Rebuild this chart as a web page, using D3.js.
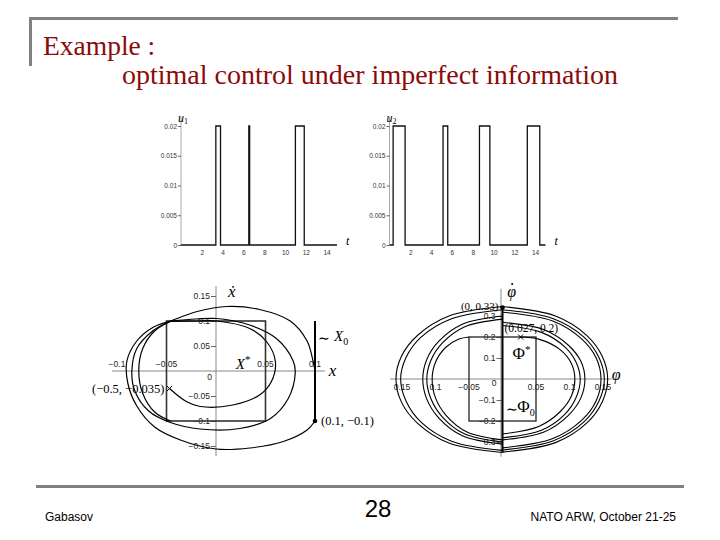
<!DOCTYPE html>
<html>
<head>
<meta charset="utf-8">
<script src="https://cdn.jsdelivr.net/npm/d3@7"></script>
<style>
  body { margin: 0; background: #fff; }
  svg { display: block; }
  .tick text { font-family: 'Liberation Sans', Arial, sans-serif; }
</style>
</head>
<body>
<svg id="slide" width="720" height="540"></svg>
<script>
// ---- data ----
const titleLines = ['Example :', 'optimal control under imperfect information'];
const footerLeft = 'Gabasov';
const footerPage = '28';
const footerRight = 'NATO ARW, October 21-25';

// control pulses [switch on, switch off] in t, level 0.02
const uLevel = 0.02;
const u1Pulses = [[3.35, 3.8], [6.52, 6.6], [11.0, 11.85]];
const u2Pulses = [[0.35, 1.5], [5.15, 5.6], [8.65, 9.65], [13.25, 14.45]];
const uTicksY = [0, 0.005, 0.01, 0.015, 0.02];
const uTickLabelsY = ['0', '0.005', '0.01', '0.015', '0.02'];
const uTicksX = [2, 4, 6, 8, 10, 12, 14];

// phase plane (x, xdot)
const xTicks = [-0.1, -0.05, 0.05, 0.1];
const xTickLabels = ['\u22120.1', '\u22120.05', '0.05', '0.1'];
const xdotTicks = [0.15, 0.1, 0.05, -0.05, -0.1, -0.15];
const xdotTickLabels = ['0.15', '0.1', '0.05', '\u22120.05', '\u22120.1', '\u22120.15'];
const xStar = { x0: -0.05, x1: 0.05, y0: -0.1, y1: 0.1 };
const xZero = { x: 0.1, y0: -0.1, y1: 0.1 };
const xStartPoint = [0.1, -0.1];
const xEndPoint = [-0.047, -0.035];
const xTraj1 = [[0.1, -0.1], [0.092, -0.118], [0.068, -0.141], [0.034, -0.154], [0.0, -0.156],
  [-0.036, -0.138], [-0.062, -0.112], [-0.08, -0.07], [-0.089, -0.025], [-0.09, 0.02],
  [-0.08, 0.06], [-0.063, 0.088], [-0.046, 0.1], [-0.019, 0.119], [0.011, 0.129],
  [0.044, 0.123], [0.075, 0.1], [0.092, 0.06], [0.098, 0.02], [0.1, 0]];
const xTraj2 = [[-0.046, 0.1], [-0.02, 0.104], [0.001, 0.105], [0.034, 0.092], [0.061, 0.065],
  [0.078, 0.02], [0.08, -0.005], [0.073, -0.055], [0.055, -0.095], [0.024, -0.115],
  [-0.016, -0.116], [-0.046, -0.103], [-0.068, -0.08], [-0.082, -0.04], [-0.085, 0],
  [-0.08, 0.045], [-0.064, 0.08], [-0.046, 0.1]];
const xTraj3 = [[-0.046, 0.099], [-0.02, 0.1], [0.001, 0.1], [0.034, 0.085], [0.051, 0.059],
  [0.06, 0.019], [0.056, -0.021], [0.044, -0.048], [0.017, -0.068], [-0.016, -0.071],
  [-0.03, -0.061], [-0.047, -0.035]];
const xTraj4 = [[-0.046, -0.1], [-0.062, -0.082], [-0.074, -0.045], [-0.078, 0],
  [-0.074, 0.045], [-0.062, 0.08], [-0.046, 0.099]];

// phase plane (phi, phidot)
const phiTicks = [-0.15, -0.1, -0.05, 0.05, 0.1, 0.15];
const phiTickLabels = ['0.15', '0.1', '\u22120.05', '0.05', '0.1', '0.15'];
const phidotTicks = [0.3, 0.2, 0.1, -0.1, -0.2, -0.3];
const phidotTickLabels = ['0.3', '0.2', '0.1', '\u22120.1', '\u22120.2', '0.3'];
const phiStar = { x0: -0.05, x1: 0.05, y0: -0.2, y1: 0.2 };
const phiZero = { x: 0, y0: -0.35, y1: 0.34 };
const phiStartPoint = [0, 0.34];
const phiEndPoint = [0.027, 0.2];
const phiArcs = [
  [[0, 0.345], [0.079, 0.3], [0.126, 0.207], [0.149, 0.107], [0.157, 0], [0.149, -0.108], [0.126, -0.209], [0.079, -0.303], [0, -0.348]],
  [[0, 0.33], [0.076, 0.287], [0.122, 0.198], [0.144, 0.102], [0.152, 0], [0.144, -0.105], [0.122, -0.203], [0.076, -0.294], [0, -0.338]],
  [[0, 0.318], [0.074, 0.277], [0.118, 0.191], [0.14, 0.099], [0.147, 0], [0.14, -0.102], [0.118, -0.197], [0.074, -0.285], [0, -0.328]],
  [[0, 0.27], [0.062, 0.235], [0.098, 0.162], [0.117, 0.084], [0.123, 0], [0.117, -0.09], [0.098, -0.174], [0.062, -0.252], [0, -0.29]],
  [[0, 0.255], [0.058, 0.222], [0.093, 0.153], [0.11, 0.079], [0.116, 0], [0.11, -0.087], [0.093, -0.168], [0.058, -0.244], [0, -0.28]],
  [[0.027, 0.2], [0.054, 0.19], [0.086, 0.14], [0.103, 0.073], [0.108, 0], [0.103, -0.08], [0.086, -0.156], [0.054, -0.226], [0, -0.262]],
  [[0, -0.35], [-0.08, -0.305], [-0.127, -0.21], [-0.151, -0.109], [-0.159, 0], [-0.151, 0.107], [-0.127, 0.207], [-0.08, 0.3], [0, 0.345]],
  [[0, -0.34], [-0.076, -0.296], [-0.122, -0.204], [-0.144, -0.105], [-0.152, 0], [-0.144, 0.102], [-0.122, 0.198], [-0.076, 0.287], [0, 0.33]],
  [[0, -0.31], [-0.06, -0.27], [-0.095, -0.186], [-0.113, -0.096], [-0.119, 0], [-0.113, 0.093], [-0.095, 0.18], [-0.06, 0.261], [0, 0.3]],
  [[0, -0.3], [-0.057, -0.261], [-0.09, -0.18], [-0.107, -0.093], [-0.113, 0], [-0.107, 0.088], [-0.09, 0.171], [-0.057, 0.248], [0, 0.285]],
  [[0, -0.29], [-0.053, -0.252], [-0.084, -0.174], [-0.1, -0.09], [-0.105, 0], [-0.1, 0.08], [-0.085, 0.15], [-0.065, 0.19], [-0.05, 0.2]]
];

const svg = d3.select('#slide');
const serif = "'Liberation Serif', 'Times New Roman', serif";
const sans = "'Liberation Sans', Arial, sans-serif";
const red = '#8b0a0a';

// ---- slide frame ----
svg.append('line').attr('x1', 29).attr('x2', 678).attr('y1', 18.5).attr('y2', 18.5)
  .attr('stroke', '#808080').attr('stroke-width', 3);
svg.append('line').attr('x1', 30.5).attr('x2', 30.5).attr('y1', 17).attr('y2', 66)
  .attr('stroke', '#808080').attr('stroke-width', 3);
svg.append('text').attr('x', 43).attr('y', 55).text(titleLines[0])
  .attr('font-family', serif).attr('font-size', 27.5).attr('fill', red);
svg.append('text').attr('x', 122).attr('y', 84).text(titleLines[1])
  .attr('font-family', serif).attr('font-size', 28).attr('fill', red);

svg.append('line').attr('x1', 36).attr('x2', 684).attr('y1', 486.5).attr('y2', 486.5)
  .attr('stroke', '#808080').attr('stroke-width', 3);
svg.append('text').attr('x', 45).attr('y', 521).text(footerLeft)
  .attr('font-family', sans).attr('font-size', 12);
svg.append('text').attr('x', 378).attr('y', 517).attr('text-anchor', 'middle').text(footerPage)
  .attr('font-family', sans).attr('font-size', 24);
svg.append('text').attr('x', 676).attr('y', 521).attr('text-anchor', 'end').text(footerRight)
  .attr('font-family', sans).attr('font-size', 12);

// ---- control plots ----
function controlPlot(x0, pulses, sub) {
  const x = d3.scaleLinear().domain([0, 15]).range([x0, x0 + 156]);
  const y = d3.scaleLinear().domain([0, uLevel]).range([245, 126]);
  const g = svg.append('g');

  g.append('line').attr('x1', x(0)).attr('x2', x(0)).attr('y1', y(0)).attr('y2', y(0.0215))
    .attr('stroke', '#aaa').attr('stroke-width', 1);

  const ya = g.append('g').attr('transform', `translate(${x(0)},0)`)
    .call(d3.axisLeft(y).tickValues(uTicksY).tickFormat((d, i) => uTickLabelsY[i]).tickSize(3).tickPadding(1));
  ya.select('.domain').remove();
  ya.selectAll('.tick line').attr('stroke', '#666');
  ya.selectAll('.tick text').attr('font-size', 6.5).attr('fill', '#333');

  const xa = g.append('g').attr('transform', `translate(0,${y(0) + 2})`)
    .call(d3.axisBottom(x).tickValues(uTicksX).tickSize(0).tickPadding(3));
  xa.select('.domain').remove();
  xa.selectAll('.tick text').attr('font-size', 6.5).attr('fill', '#333');

  const pts = [[0, 0]];
  pulses.forEach(([a, b]) => {
    pts.push([a, 0], [a, uLevel], [b, uLevel], [b, 0]);
  });
  pts.push([15, 0]);
  g.append('path').datum(pts)
    .attr('d', d3.line().x(d => x(d[0])).y(d => y(d[1])))
    .attr('fill', 'none').attr('stroke', '#111').attr('stroke-width', 1.3);

  const ul = g.append('text').attr('x', x(0) - 3).attr('y', 122)
    .attr('font-family', serif).attr('font-style', 'italic').attr('font-size', 12);
  ul.append('tspan').text('u');
  ul.append('tspan').text(sub).attr('font-size', 8).attr('dy', 2).attr('font-style', 'normal');
  g.append('text').attr('x', x(15) + 9).attr('y', 245).text('t')
    .attr('font-family', serif).attr('font-style', 'italic').attr('font-size', 12);
}
controlPlot(181, u1Pulses, '1');
controlPlot(389.5, u2Pulses, '2');

// ---- phase plane x ----
(function () {
  const x = d3.scaleLinear().domain([-0.1, 0.1]).range([117, 315]);
  const y = d3.scaleLinear().domain([-0.1, 0.1]).range([421, 321]);
  const g = svg.append('g');
  const line = d3.line().x(d => x(d[0])).y(d => y(d[1])).curve(d3.curveCatmullRom);

  g.append('line').attr('x1', x(-0.105)).attr('x2', x(0.11)).attr('y1', y(0)).attr('y2', y(0))
    .attr('stroke', '#888');
  g.append('line').attr('x1', x(0)).attr('x2', x(0)).attr('y1', y(0.17)).attr('y2', y(-0.17))
    .attr('stroke', '#888');

  const ya = g.append('g').attr('transform', `translate(${x(0)},0)`)
    .call(d3.axisLeft(y).tickValues(xdotTicks).tickFormat((d, i) => xdotTickLabels[i]).tickSize(5).tickPadding(1));
  ya.select('.domain').remove();
  ya.selectAll('.tick line').attr('stroke', '#666');
  ya.selectAll('.tick text').attr('font-size', 8.5).attr('fill', '#222');

  g.selectAll('.xl').data(xTicks).join('text').attr('class', 'xl')
    .attr('x', d => x(d)).attr('y', y(0) - 4).attr('text-anchor', 'middle')
    .text((d, i) => xTickLabels[i])
    .attr('font-family', sans).attr('font-size', 8.5).attr('fill', '#222');
  g.append('text').attr('x', x(0) - 4).attr('y', y(0) + 9).attr('text-anchor', 'end').text('0')
    .attr('font-family', sans).attr('font-size', 8.5).attr('fill', '#222');

  g.append('rect').attr('x', x(xStar.x0)).attr('y', y(xStar.y1))
    .attr('width', x(xStar.x1) - x(xStar.x0)).attr('height', y(xStar.y0) - y(xStar.y1))
    .attr('fill', 'none').attr('stroke', '#333').attr('stroke-width', 1.6);

  [xTraj1, xTraj2, xTraj3, xTraj4].forEach(c => {
    g.append('path').datum(c).attr('d', line)
      .attr('fill', 'none').attr('stroke', '#000').attr('stroke-width', 1.2);
  });

  g.append('line').attr('x1', x(xZero.x)).attr('x2', x(xZero.x))
    .attr('y1', y(xZero.y1)).attr('y2', y(xZero.y0))
    .attr('stroke', '#000').attr('stroke-width', 2);
  g.append('circle').attr('cx', x(xStartPoint[0])).attr('cy', y(xStartPoint[1])).attr('r', 2.3);

  const ex = x(xEndPoint[0]), ey = y(xEndPoint[1]);
  g.append('path').attr('d', `M${ex - 2.5},${ey - 2.5}L${ex + 2.5},${ey + 2.5}M${ex - 2.5},${ey + 2.5}L${ex + 2.5},${ey - 2.5}`)
    .attr('stroke', '#000').attr('stroke-width', 1);

  const t = (px, py, s, size, italic) => g.append('text').attr('x', px).attr('y', py).text(s)
    .attr('font-family', serif).attr('font-size', size).attr('font-style', italic ? 'italic' : 'normal');
  t(ex - 5, ey + 4, '(\u22120.5, \u22120.035)', 12.5).attr('text-anchor', 'end');
  t(x(0.1) + 6, y(-0.1) + 4, '(0.1, \u22120.1)', 12.5);
  t(x(0.1) + 3, y(0.057), '\u223C', 14);
  const x0l = t(x(0.1) + 19, y(0.06), 'X', 15, true);
  x0l.append('tspan').text('0').attr('font-size', 10).attr('dy', 4).attr('font-style', 'normal');
  const xs = t(x(0.02), y(-0.035) - 20, 'X', 15, true);
  xs.append('tspan').text('*').attr('font-size', 11).attr('dy', -6).attr('font-style', 'normal');
  t(x(0.012), y(0.148), '\u1E8B', 17, true);
  t(x(0.114), y(0) + 5, 'x', 17, true);
})();

// ---- phase plane phi ----
(function () {
  const x = d3.scaleLinear().domain([-0.05, 0.05]).range([469, 536]);
  const y = d3.scaleLinear().domain([-0.1, 0.1]).range([400, 358]);
  const g = svg.append('g');
  const line = d3.line().x(d => x(d[0])).y(d => y(d[1])).curve(d3.curveCatmullRom);

  g.append('line').attr('x1', x(-0.168)).attr('x2', x(0.163)).attr('y1', y(0)).attr('y2', y(0))
    .attr('stroke', '#888');
  g.append('line').attr('x1', x(0) - 1.5).attr('x2', x(0) - 1.5).attr('y1', y(0.43)).attr('y2', y(-0.37))
    .attr('stroke', '#888');

  const ya = g.append('g').attr('transform', `translate(${x(0)},0)`)
    .call(d3.axisLeft(y).tickValues(phidotTicks).tickFormat((d, i) => phidotTickLabels[i]).tickSize(6).tickPadding(1));
  ya.select('.domain').remove();
  ya.selectAll('.tick line').attr('stroke', '#666');
  ya.selectAll('.tick text').attr('font-size', 8.5).attr('fill', '#222');

  g.selectAll('.pl').data(phiTicks).join('text').attr('class', 'pl')
    .attr('x', d => x(d)).attr('y', y(0) + 11).attr('text-anchor', 'middle')
    .text((d, i) => phiTickLabels[i])
    .attr('font-family', sans).attr('font-size', 8.5).attr('fill', '#222');
  g.append('text').attr('x', x(0) - 6).attr('y', y(0) + 7).attr('text-anchor', 'end').text('0')
    .attr('font-family', sans).attr('font-size', 8.5).attr('fill', '#222');

  g.append('rect').attr('x', x(phiStar.x0)).attr('y', y(phiStar.y1))
    .attr('width', x(phiStar.x1) - x(phiStar.x0)).attr('height', y(phiStar.y0) - y(phiStar.y1))
    .attr('fill', 'none').attr('stroke', '#222').attr('stroke-width', 1.3);

  phiArcs.forEach(c => {
    g.append('path').datum(c).attr('d', line)
      .attr('fill', 'none').attr('stroke', '#000').attr('stroke-width', 1.1);
  });

  g.append('line').attr('x1', x(phiZero.x)).attr('x2', x(phiZero.x))
    .attr('y1', y(phiZero.y1)).attr('y2', y(phiZero.y0))
    .attr('stroke', '#000').attr('stroke-width', 2);
  g.append('circle').attr('cx', x(phiStartPoint[0])).attr('cy', y(phiStartPoint[1])).attr('r', 2.3);

  const ex = x(phiEndPoint[0]), ey = y(phiEndPoint[1]);
  g.append('path').attr('d', `M${ex - 2.5},${ey - 2.5}L${ex + 2.5},${ey + 2.5}M${ex - 2.5},${ey + 2.5}L${ex + 2.5},${ey - 2.5}`)
    .attr('stroke', '#000').attr('stroke-width', 1);

  const t = (px, py, s, size, italic) => g.append('text').attr('x', px).attr('y', py).text(s)
    .attr('font-family', serif).attr('font-size', size).attr('font-style', italic ? 'italic' : 'normal');
  t(x(0) - 4, y(0.34) + 2, '(0, 0.33)', 11).attr('text-anchor', 'end');
  t(x(0) + 2, ey - 5, '(0.027, 0.2)', 11.5);
  const ps = t(x(0.015), y(0.095), '\u03A6', 17);
  ps.append('tspan').text('*').attr('font-size', 11).attr('dy', -6);
  t(x(0) + 3, y(-0.165), '\u223C', 14);
  const p0 = t(x(0.022), y(-0.155), '\u03A6', 17);
  p0.append('tspan').text('0').attr('font-size', 10).attr('dy', 4);
  // phidot: phi with a dot above
  t(x(0.007), y(0.39), '\u03C6', 16, true);
  g.append('circle').attr('cx', x(0.007) + 5).attr('cy', y(0.39) - 13).attr('r', 1);
  t(x(0.163), y(0) + 1, '\u03C6', 16, true);
})();
</script>
</body>
</html>
